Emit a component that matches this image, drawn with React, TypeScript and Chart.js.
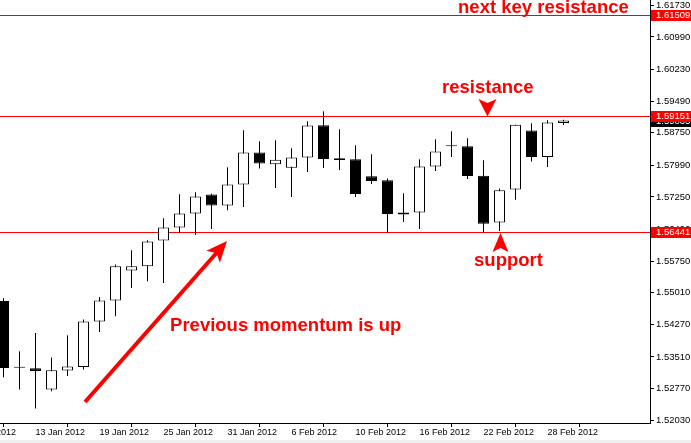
import React, { useEffect, useRef } from "react";
import { Chart, registerables } from "chart.js";

Chart.register(...registerables);

// ---- data ----
const dates = [
  "9 Jan 2012", "10 Jan 2012", "11 Jan 2012", "12 Jan 2012", "13 Jan 2012",
  "16 Jan 2012", "17 Jan 2012", "18 Jan 2012", "19 Jan 2012", "20 Jan 2012",
  "23 Jan 2012", "24 Jan 2012", "25 Jan 2012", "26 Jan 2012", "27 Jan 2012",
  "30 Jan 2012", "31 Jan 2012", "1 Feb 2012", "2 Feb 2012", "3 Feb 2012",
  "6 Feb 2012", "7 Feb 2012", "8 Feb 2012", "9 Feb 2012", "10 Feb 2012",
  "13 Feb 2012", "14 Feb 2012", "15 Feb 2012", "16 Feb 2012", "17 Feb 2012",
  "20 Feb 2012", "21 Feb 2012", "22 Feb 2012", "23 Feb 2012", "24 Feb 2012",
  "27 Feb 2012", "28 Feb 2012", "29 Feb 2012",
];

const openP = [
  null, null, 1.54818, 1.53257, 1.53245,
  1.52748, 1.53192, 1.53276, 1.54337, 1.54828,
  1.55529, 1.55629, 1.5623, 1.56534, 1.56861,
  1.57305, 1.57048, 1.57539, 1.58287, 1.58013,
  1.57936, 1.5817, 1.58925, 1.58154, 1.5813,
  1.57733, 1.5764, 1.56838, 1.56885, 1.5796,
  1.58434, 1.58434, 1.57749, 1.56651, 1.57422,
  1.58801, 1.58184, 1.58979,
];
const highP = [
  null, null, 1.54882, 1.53643, 1.54071,
  1.53496, 1.54017, 1.54384, 1.54912, 1.55669,
  1.56003, 1.56237, 1.56751, 1.57312, 1.57359,
  1.57324, 1.57943, 1.58808, 1.58551, 1.58574,
  1.58388, 1.59019, 1.59252, 1.58832, 1.58458,
  1.58247, 1.57679, 1.57336, 1.5813, 1.58598,
  1.58785, 1.58621, 1.58107, 1.57446, 1.58941,
  1.58972, 1.59042, 1.59054,
];
const lowP = [
  null, null, 1.53035, 1.52748, 1.52304,
  1.52708, 1.53065, 1.53215, 1.54094, 1.54461,
  1.55122, 1.55279, 1.55239, 1.56408, 1.56361,
  1.56501, 1.56938, 1.57016, 1.57913, 1.5746,
  1.57249, 1.57834, 1.57927, 1.5788, 1.57249,
  1.57553, 1.56417, 1.56665, 1.56501, 1.57857,
  1.58184, 1.5767, 1.56424, 1.56455, 1.57188,
  1.58077, 1.5795, 1.58932,
];
const closeP = [
  null, null, 1.53252, 1.5328, 1.53182,
  1.53199, 1.53285, 1.54337, 1.54828, 1.55629,
  1.55629, 1.56207, 1.56534, 1.56861, 1.57259,
  1.57048, 1.57539, 1.58287, 1.5803, 1.58123,
  1.5817, 1.58918, 1.58137, 1.58114, 1.57319,
  1.57623, 1.56852, 1.56885, 1.5796, 1.5831,
  1.58457, 1.5774, 1.56627, 1.57406, 1.58941,
  1.58184, 1.58988, 1.59035,
];

const xTickLabels = [
  "9 Jan 2012", "13 Jan 2012", "19 Jan 2012", "25 Jan 2012", "31 Jan 2012",
  "6 Feb 2012", "10 Feb 2012", "16 Feb 2012", "22 Feb 2012", "28 Feb 2012",
];
const yTickValues = [
  1.5203, 1.5277, 1.5351, 1.5427, 1.5501, 1.5575, 1.5649,
  1.5725, 1.5799, 1.5875, 1.5949, 1.6023, 1.6099, 1.6173,
];

const nextResistance = 1.61509;
const resistance = 1.59151;
const support = 1.56441;

// ---- layout of the view ----
const X_MIN = 1.78125;
const X_MAX = 42.40625;
const Y_MIN = 1.51967;
const Y_MAX = 1.61854;
const FONT = "'Liberation Sans', Arial, sans-serif";
const RED = "#ff0000";

const textNotes = [
  { text: "next key resistance", x: 30.41, y: 1.61543 },
  { text: "resistance", x: 29.41, y: 1.5968 },
  { text: "support", x: 31.41, y: 1.55637 },
  { text: "Previous momentum is up", x: 12.41, y: 1.54117 },
];
const bigArrow = { from: { x: 7.094, y: 1.52458 }, to: { x: 15.97, y: 1.56221 } };
const resistanceMarkX = 32.25;
const supportMarkX = 33.06;

export default function App() {
  const ref = useRef<HTMLCanvasElement | null>(null);

  useEffect(() => {
    document.body.style.margin = "0";
    const canvas = ref.current;
    if (!canvas) return;

    const idx = dates.map((_, i) => i).filter((i) => openP[i] !== null);
    const bodyData = idx.map((i) => ({ x: i, y: [openP[i] as number, closeP[i] as number] }));
    const wickData = idx.map((i) => ({ x: i, y: [lowP[i] as number, highP[i] as number] }));
    const bodyFill = idx.map((i) => {
      const o = openP[i] as number;
      const c = closeP[i] as number;
      if (Math.abs(c - o) < 0.0003) return "#000000";
      return c >= o ? "#ffffff" : "#000000";
    });
    const xTickIdx = xTickLabels.map((l) => dates.indexOf(l));

    const overlay = {
      id: "overlay",
      beforeDraw(chart: any) {
        const ctx = chart.ctx;
        ctx.save();
        ctx.fillStyle = "#ffffff";
        ctx.fillRect(0, 0, chart.width, chart.height);
        ctx.fillStyle = "#efefef";
        ctx.fillRect(0, 440, chart.width, chart.height - 440);
        ctx.restore();
      },
      beforeDatasetsDraw(chart: any) {
        const { ctx, chartArea, scales } = chart;
        const ys = scales.y;
        ctx.save();
        ctx.strokeStyle = RED;
        ctx.lineWidth = 1;
        for (const lv of [nextResistance, resistance, support]) {
          const py = Math.round(ys.getPixelForValue(lv)) + 0.5;
          ctx.beginPath();
          ctx.moveTo(chartArea.left, py);
          ctx.lineTo(chartArea.right, py);
          ctx.stroke();
        }
        ctx.restore();
      },
      afterDatasetsDraw(chart: any) {
        const { ctx, scales } = chart;
        const xs = scales.x;
        const ys = scales.y;
        ctx.save();
        ctx.fillStyle = RED;
        ctx.font = `bold 18.5px ${FONT}`;
        ctx.textBaseline = "alphabetic";
        ctx.textAlign = "left";
        for (const n of textNotes) {
          ctx.fillText(n.text, xs.getPixelForValue(n.x), ys.getPixelForValue(n.y));
        }
        // big arrow
        const x1 = xs.getPixelForValue(bigArrow.from.x);
        const y1 = ys.getPixelForValue(bigArrow.from.y);
        const x2 = xs.getPixelForValue(bigArrow.to.x);
        const y2 = ys.getPixelForValue(bigArrow.to.y);
        const len = Math.hypot(x2 - x1, y2 - y1);
        const ux = (x2 - x1) / len;
        const uy = (y2 - y1) / len;
        const nx = -uy;
        const ny = ux;
        ctx.strokeStyle = RED;
        ctx.lineWidth = 4;
        ctx.beginPath();
        ctx.moveTo(x1, y1);
        ctx.lineTo(x2 - 14 * ux, y2 - 14 * uy);
        ctx.stroke();
        const hl = 21;
        const hw = 9;
        ctx.beginPath();
        ctx.moveTo(x2, y2);
        ctx.lineTo(x2 - hl * ux + hw * nx, y2 - hl * uy + hw * ny);
        ctx.lineTo(x2 - (hl - 5) * ux, y2 - (hl - 5) * uy);
        ctx.lineTo(x2 - hl * ux - hw * nx, y2 - hl * uy - hw * ny);
        ctx.closePath();
        ctx.fill();
        // resistance marker (pointing down)
        const rx = xs.getPixelForValue(resistanceMarkX);
        const ry = Math.round(ys.getPixelForValue(resistance));
        ctx.beginPath();
        ctx.moveTo(rx, ry + 0.5);
        ctx.lineTo(rx - 9, ry - 17);
        ctx.lineTo(rx, ry - 13);
        ctx.lineTo(rx + 9, ry - 17);
        ctx.closePath();
        ctx.fill();
        // support marker (pointing up)
        const sx = xs.getPixelForValue(supportMarkX);
        const sy = Math.round(ys.getPixelForValue(support)) + 1;
        ctx.beginPath();
        ctx.moveTo(sx, sy);
        ctx.lineTo(sx - 8, sy + 19);
        ctx.lineTo(sx, sy + 15);
        ctx.lineTo(sx + 8, sy + 19);
        ctx.closePath();
        ctx.fill();
        ctx.restore();
      },
      afterDraw(chart: any) {
        const { ctx, chartArea, scales } = chart;
        const ys = scales.y;
        ctx.save();
        ctx.font = `9.5px ${FONT}`;
        ctx.textBaseline = "middle";
        ctx.textAlign = "left";
        const tag = (v: number, bg: string) => {
          const py = Math.round(ys.getPixelForValue(v));
          ctx.fillStyle = bg;
          ctx.fillRect(chartArea.right + 1, py - 5, chart.width - chartArea.right - 1, 11);
          ctx.fillStyle = "#ffffff";
          ctx.fillText(v.toFixed(5), chartArea.right + 6, py + 0.5);
        };
        tag(closeP[closeP.length - 1] as number, "#000000");
        tag(nextResistance, RED);
        tag(resistance, RED);
        tag(support, RED);
        ctx.restore();
      },
    };

    const axisGrid = {
      drawOnChartArea: false,
      drawTicks: true,
      tickLength: 4,
      color: "#000000",
      lineWidth: 1,
    };

    const chart = new Chart(canvas, {
      type: "bar",
      data: {
        datasets: [
          {
            label: "body",
            data: bodyData as any,
            backgroundColor: bodyFill,
            borderColor: "#000000",
            borderWidth: 1,
            borderSkipped: false,
            grouped: false,
            maxBarThickness: 11,
            barPercentage: 1,
            categoryPercentage: 1,
            inflateAmount: 0,
          } as any,
          {
            label: "wick",
            data: wickData as any,
            backgroundColor: "#000000",
            borderWidth: 0,
            grouped: false,
            maxBarThickness: 1,
            barPercentage: 1,
            categoryPercentage: 1,
            inflateAmount: 0,
          } as any,
        ],
      },
      options: {
        responsive: false,
        animation: false,
        devicePixelRatio: 1,
        events: [],
        layout: { padding: 0, autoPadding: false },
        plugins: {
          legend: { display: false },
          tooltip: { enabled: false },
          title: { display: false },
        },
        scales: {
          x: {
            type: "linear",
            min: X_MIN,
            max: X_MAX,
            bounds: "data",
            offset: false,
            grid: axisGrid,
            border: { display: true, color: "#000000", width: 1 },
            ticks: {
              autoSkip: false,
              maxRotation: 0,
              minRotation: 0,
              align: "start",
              padding: 0,
              color: "#000000",
              font: { family: FONT, size: 9 },
              callback: (v: any) => dates[Math.round(Number(v))] ?? "",
            },
            afterBuildTicks: (s: any) => {
              s.ticks = xTickIdx.map((v) => ({ value: v }));
            },
            afterFit: (s: any) => {
              s.height = 20;
              s.paddingLeft = 0;
              s.paddingRight = 0;
              s.paddingTop = 0;
              s.paddingBottom = 0;
            },
          } as any,
          y: {
            type: "linear",
            position: "right",
            min: Y_MIN,
            max: Y_MAX,
            bounds: "data",
            grid: axisGrid,
            border: { display: true, color: "#000000", width: 1 },
            ticks: {
              autoSkip: false,
              padding: 2,
              color: "#000000",
              font: { family: FONT, size: 9.5 },
              callback: (v: any) => Number(v).toFixed(5),
            },
            afterBuildTicks: (s: any) => {
              s.ticks = yTickValues.map((v) => ({ value: v }));
            },
            afterFit: (s: any) => {
              s.width = 41;
              s.paddingLeft = 0;
              s.paddingRight = 0;
              s.paddingTop = 0;
              s.paddingBottom = 0;
            },
          } as any,
        },
      },
      plugins: [overlay],
    });

    return () => {
      chart.destroy();
    };
  }, []);

  return (
    <div style={{ width: 691, height: 443 }}>
      <canvas ref={ref} width={691} height={443} style={{ display: "block" }} />
    </div>
  );
}
